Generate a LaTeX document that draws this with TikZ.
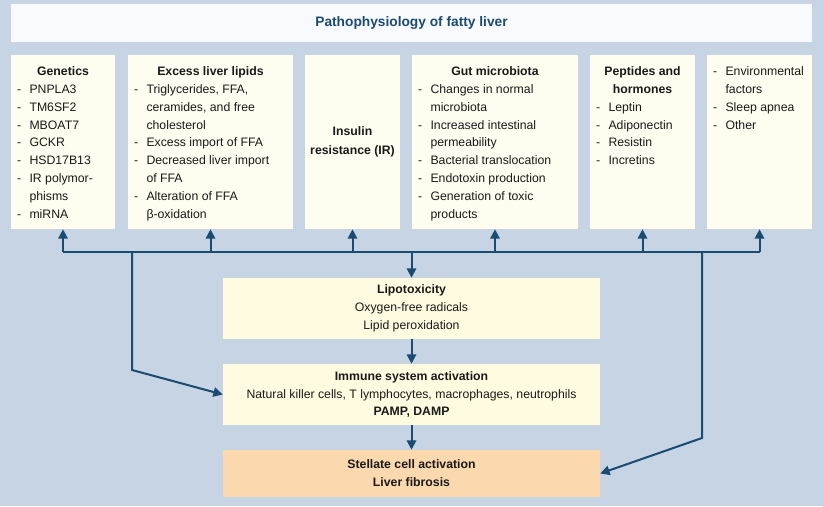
\documentclass[tikz,border=0pt]{standalone}
\usepackage{fontspec}
\setmainfont{Liberation Sans}
\usetikzlibrary{arrows.meta}
\definecolor{bgc}{HTML}{C6D4E3}
\definecolor{cream}{HTML}{FEFDF0}
\definecolor{creamY}{HTML}{FFFBE0}
\definecolor{titlebg}{HTML}{F8FAFD}
\definecolor{stelc}{HTML}{FBD8AE}
\definecolor{navy}{HTML}{1B4A72}
\definecolor{txt}{HTML}{1A1A1A}
\hyphenpenalty=10000
\exhyphenpenalty=10000
\hfuzz=20pt
\newcommand\itm[1]{\par\noindent\hangindent=9.4pt\hangafter=1\makebox[9.4pt][l]{-}#1}
\newcommand\hd[1]{{\centering\bfseries\rule{0pt}{15.3pt}#1\par}}
\begin{document}
\begin{tikzpicture}[x=0.75pt,y=-0.75pt,
 every node/.style={text=txt, font=\fontsize{9.2}{13.4}\selectfont},
 topbox/.style={fill=cream, inner xsep=4.5pt, inner ysep=0pt, minimum height=130.5pt},
 lowbox/.style={fill=creamY, inner sep=0pt, minimum width=282.75pt, align=center},
 conn/.style={draw=navy, line width=1.5pt},
 arr/.style={conn, -{Triangle[length=7pt,width=7pt]}}]
\fill[bgc] (0,0) rectangle (823,506);
\useasboundingbox (0,0) rectangle (823,506);
\node[fill=titlebg, minimum width=600.75pt, minimum height=28.5pt, inner sep=0pt,
  font=\fontsize{10.3}{12}\selectfont\bfseries, text=navy] (title) at (411.5,23) {Pathophysiology of fatty liver};

\node[topbox] (gen) at (63,142) {\parbox[c][130.5pt][t]{69pt}{\raggedright
  \hd{Genetics}\itm{PNPLA3}\itm{TM6SF2}\itm{MBOAT7}\itm{GCKR}\itm{HSD17B13}\itm{IR polymor-\newline phisms}\itm{miRNA}}};
\node[topbox] (lip) at (210.5,142) {\parbox[c][130.5pt][t]{114.75pt}{\raggedright
  \hd{Excess liver lipids}\itm{Triglycerides, FFA,\newline ceramides, and free\newline cholesterol}\itm{Excess import of FFA}\itm{Decreased liver import\newline of FFA}\itm{Alteration of FFA\newline β-oxidation}}};
\node[topbox, minimum width=71.25pt, inner sep=0pt, align=center,
  font=\fontsize{9.2}{14.2}\selectfont\bfseries] (ins) at (352.5,142) {Insulin\\resistance (IR)};
\node[topbox] (gut) at (495,142) {\parbox[c][130.5pt][t]{115.5pt}{\raggedright
  \hd{Gut microbiota}\itm{Changes in normal\newline microbiota}\itm{Increased intestinal\newline permeability}\itm{Bacterial translocation}\itm{Endotoxin production}\itm{Generation of toxic\newline products}}};
\node[topbox] (pep) at (642.5,142) {\parbox[c][130.5pt][t]{69.75pt}{\raggedright
  \hd{Peptides and\\hormones}\itm{Leptin}\itm{Adiponectin}\itm{Resistin}\itm{Incretins}}};
\node[topbox] (env) at (759.5,142) {\parbox[c][130.5pt][t]{69.75pt}{\raggedright
  \itm{\rule{0pt}{15.3pt}Environmental\newline factors}\itm{Sleep apnea}\itm{Other}}};

\node[lowbox, minimum height=45.75pt] (lipo) at (411.5,308.5) {\textbf{Lipotoxicity}\\Oxygen-free radicals\\Lipid peroxidation};
\node[lowbox, minimum height=45.75pt] (imm) at (411.5,394.5) {\textbf{Immune system activation}\\Natural killer cells, T lymphocytes, macrophages, neutrophils\\\textbf{PAMP, DAMP}};
\node[lowbox, fill=stelc, minimum height=35.25pt, font=\fontsize{9.2}{13.4}\selectfont\bfseries] (stel) at (411.5,473.5) {Stellate cell activation\\Liver fibrosis};

\coordinate (bus) at (0,252);
\draw[conn] (gen.south |- bus) -- (env.south |- bus);
\foreach \n in {gen,lip,ins,gut,pep,env} \draw[arr] (\n.south |- bus) -- (\n.south);
\draw[arr] (lipo.north |- bus) -- (lipo.north);
\draw[arr] (lipo) -- (imm);
\draw[arr] (imm) -- (stel);
\coordinate (ltop) at (132,252);
\coordinate (lk) at (132,370);
\draw[arr] (ltop) -- (lk) -- (imm.west);
\coordinate (rtop) at (702,252);
\coordinate (rk) at (702,438);
\draw[arr] (rtop) -- (rk) -- (stel.east);
\end{tikzpicture}
\end{document}
